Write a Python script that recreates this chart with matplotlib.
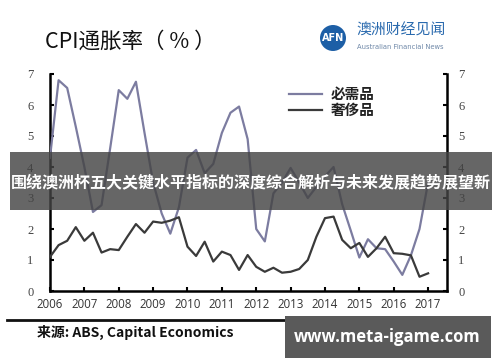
import numpy as np
import matplotlib
matplotlib.use("Agg")
import matplotlib.pyplot as plt
from matplotlib.patches import Rectangle, Ellipse

plt.rcParams['font.family'] = ['Noto Sans CJK SC', 'DejaVu Sans']

# ---- data (quarterly, 2006Q1 .. 2017Q1) ----
quarters = np.arange(2006.0, 2017.01, 0.25)
necessities = [4.3, 6.8, 6.55, 5.3, 4.0, 2.55, 2.77, 4.6, 6.48, 6.2, 6.75, 5.1,
               3.5, 2.5, 1.85, 2.7, 4.3, 4.55, 3.8, 4.1, 5.1, 5.75, 5.95, 4.9,
               2.0, 1.6, 3.15, 3.5, 3.97, 3.5, 3.0, 3.36, 3.7, 4.0, 2.8, 1.95,
               1.08, 1.67, 1.38, 1.35, 0.95, 0.52, 1.15, 2.0, 3.5]
luxury = [1.1, 1.48, 1.62, 2.06, 1.62, 1.88, 1.24, 1.35, 1.32, 1.75, 2.16, 1.88,
          2.24, 2.2, 2.27, 2.38, 1.43, 1.13, 1.59, 0.95, 1.27, 1.16, 0.68, 1.16,
          0.78, 0.62, 0.75, 0.59, 0.62, 0.71, 1.0, 1.75, 2.35, 2.4, 1.65, 1.38,
          1.55, 1.1, 1.38, 1.75, 1.22, 1.2, 1.15, 0.46, 0.57]
year_ticks = list(range(2006, 2018))
y_ticks = list(range(0, 8))
series_names = ['必需品', '奢侈品']
title = 'CPI通胀率（ % ）'
source = '来源: ABS, Capital Economics'
banner = '围绕澳洲杯五大关键水平指标的深度综合解析与未来发展趋势展望新'
watermark = 'www.meta-igame.com'

W, H = 500, 362
fig = plt.figure(figsize=(W / 100, H / 100), dpi=100)
fig.patch.set_facecolor('white')

def fx(x):
    return x / W

def fy(y):
    return 1 - y / H

ax = fig.add_axes([fx(50), fy(291), fx(447) - fx(50), fy(74) - fy(291)])
ax.plot(quarters, necessities, color='#7c7ca0', lw=1.6, label=series_names[0], zorder=3)
ax.plot(quarters, luxury, color='#3a3a3a', lw=1.6, label=series_names[1], zorder=3)
ax.set_xlim(2006.0, 2017.55)
ax.set_ylim(0, 7)
ax.set_xticks(year_ticks)
ax.set_xticklabels([str(y) for y in year_ticks], family=['Open Sans', 'DejaVu Sans'],
                   fontsize=8.3, color='#333333')
ax.set_yticks(y_ticks)
ax.set_yticklabels([str(v) for v in y_ticks], family=['Liberation Serif', 'DejaVu Serif'],
                   fontsize=9, color='#444444')
ax.tick_params(axis='both', direction='in', length=3, width=1.5, color='black')
ax.tick_params(axis='x', pad=5)
ax.tick_params(axis='y', pad=12)
ax.spines['top'].set_visible(False)
for s in ['left', 'right', 'bottom']:
    ax.spines[s].set_linewidth(1.8)
    ax.spines[s].set_color('black')

ax2 = ax.twinx()
ax2.set_ylim(0, 7)
ax2.set_yticks(y_ticks)
ax2.set_yticklabels([str(v) for v in y_ticks], family=['Liberation Serif', 'DejaVu Serif'],
                    fontsize=9, color='#444444')
ax2.tick_params(axis='y', direction='in', length=3, width=1.5, pad=8)
for s in ['top', 'left', 'right', 'bottom']:
    ax2.spines[s].set_visible(False)

leg = ax.legend(loc='upper left', bbox_to_anchor=((283 - 50) / 397, (291 - 80) / 217),
                frameon=False, fontsize=10.5, handlelength=2.3, handletextpad=0.55,
                labelspacing=0.0, borderaxespad=0)
for t in leg.get_texts():
    t.set_fontweight('bold')
    t.set_color('#222222')

# title
fig.text(fx(45), fy(42), title, fontsize=15.5, va='center', ha='left', color='#111111')

# logo
fig.patches.append(Ellipse((fx(333), fy(38)), 26 / W, 26 / H, transform=fig.transFigure,
                           facecolor='#1d5fa6', edgecolor='none', zorder=5))
fig.text(fx(333), fy(38), 'AFN', color='white', fontsize=7, ha='center', va='center',
         fontweight='bold', family=['DejaVu Sans'], zorder=6)
fig.text(fx(356), fy(31), '澳洲财经见闻', color='#2a6aae', fontsize=10.7, ha='left',
         va='center', zorder=6)
fig.text(fx(357), fy(47), 'Australian Financial News', color='#6f88a8', fontsize=4.9,
         ha='left', va='center', family=['DejaVu Sans'], zorder=6)

# separator and source
fig.add_artist(plt.Line2D([fx(7), fx(488)], [fy(320), fy(320)], color='#111111', lw=2,
                          transform=fig.transFigure))
fig.text(fx(37), fy(332), source, fontsize=10, fontweight='bold', va='center', ha='left',
         color='#111111')

# watermark box
fig.patches.append(Rectangle((fx(285), fy(358)), (491 - 285) / W, (358 - 316) / H,
                             transform=fig.transFigure, facecolor='#5a5a5a',
                             edgecolor='none', zorder=10))
fig.text(fx(387), fy(337), watermark, color='white', fontsize=12, fontweight='bold',
         ha='center', va='center', family=['Open Sans', 'DejaVu Sans'], zorder=11)

# banner
fig.patches.append(Rectangle((fx(10), fy(210)), (492 - 10) / W, (210 - 152) / H,
                             transform=fig.transFigure, facecolor='#444444', alpha=0.82,
                             edgecolor='none', zorder=10))
fig.text(fx(251), fy(182), banner, color='white', fontsize=11.5, fontweight='bold',
         ha='center', va='center', zorder=11)

fig.savefig('out.png', dpi=100)
